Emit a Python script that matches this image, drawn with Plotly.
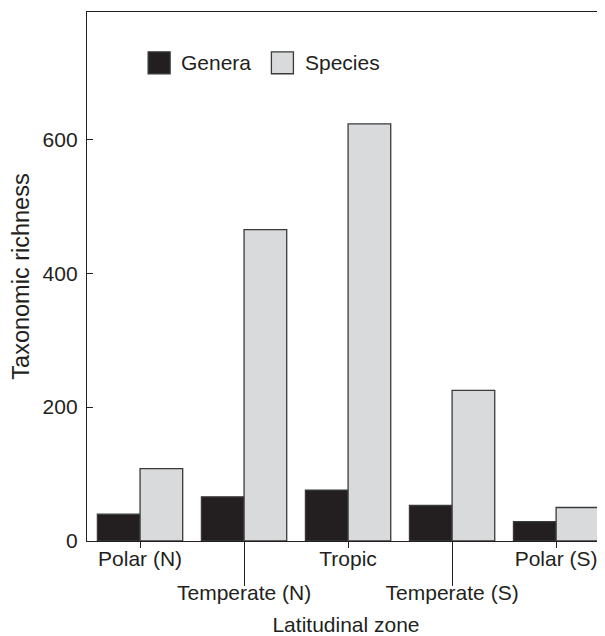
import plotly.graph_objects as go

categories = ["Polar (N)", "Temperate (N)", "Tropic", "Temperate (S)", "Polar (S)"]
genera = [40, 66, 76, 53, 29]
species = [108, 465, 623, 225, 50]
y_ticks = [0, 200, 400, 600]

BLACK = "#231f20"
GREY = "#d9dadc"
EDGE = "#3a3a3a"
FONT = "Liberation Sans, Arial, Helvetica, sans-serif"
FS = 21

fig = go.Figure()
fig.add_trace(go.Bar(x=categories, y=genera, name="Genera",
                     marker=dict(color=BLACK, line=dict(color=EDGE, width=1.3)),
                     showlegend=False))
fig.add_trace(go.Bar(x=categories, y=species, name="Species",
                     marker=dict(color=GREY, line=dict(color=EDGE, width=1.3)),
                     showlegend=False))

xr = [-0.51, 4.47]
short_idx = [i for i in range(len(categories)) if i % 2 == 0]
long_idx = [i for i in range(len(categories)) if i % 2 == 1]

# invisible helper trace so the second (long-tick) x axis is drawn
fig.add_trace(go.Scatter(x=long_idx, y=[0] * len(long_idx), xaxis="x2", mode="markers",
                         marker=dict(opacity=0), hoverinfo="skip", showlegend=False))

fig.update_layout(
    width=597, height=628,
    margin=dict(l=79, r=0, t=4, b=95, autoexpand=False),
    paper_bgcolor="white", plot_bgcolor="white",
    font=dict(family=FONT, size=FS, color=BLACK),
    barmode="group", bargap=0.18, bargroupgap=0,
    xaxis=dict(type="category", range=xr,
               tickvals=[categories[i] for i in short_idx],
               ticktext=[categories[i] for i in short_idx],
               ticks="outside", ticklen=6, tickwidth=1.3, tickcolor=BLACK,
               showline=True, linecolor=BLACK, linewidth=1.3, mirror=True,
               showgrid=False, zeroline=False, ticklabelstandoff=-7),
    xaxis2=dict(overlaying="x", anchor="y", side="bottom", type="linear", range=xr,
                tickvals=long_idx, ticktext=[categories[i] for i in long_idx],
                ticks="outside", ticklen=44, tickwidth=1.3, tickcolor=BLACK,
                showline=False, showgrid=False, zeroline=False, ticklabelstandoff=-11,
                title=dict(text="Latitudinal zone", standoff=15,
                           font=dict(family=FONT, size=21, color=BLACK))),
    yaxis=dict(range=[0, 790], tickvals=y_ticks,
               ticks="inside", ticklen=6, tickwidth=1.3, tickcolor=BLACK,
               showline=True, linecolor=BLACK, linewidth=1.3,
               showgrid=False, zeroline=False, ticklabelstandoff=4,
               title=dict(text="Taxonomic richness", standoff=16,
                          font=dict(family=FONT, size=23.5, color=BLACK))),
)

# manual legend (large swatches as in the reference)
legend_items = [("Genera", BLACK, 0.118), ("Species", GREY, 0.356)]
sw_w, sw_h = 0.0425, 0.0415
ly = 0.904
for name, col, lx in legend_items:
    fig.add_shape(type="rect", xref="paper", yref="paper",
                  x0=lx, x1=lx + sw_w, y0=ly - sw_h / 2, y1=ly + sw_h / 2,
                  fillcolor=col, line=dict(color=EDGE, width=1.3))
    fig.add_annotation(xref="paper", yref="paper", x=lx + sw_w + 0.018, y=ly,
                       text=name, showarrow=False, xanchor="left", yanchor="middle",
                       font=dict(family=FONT, size=FS, color=BLACK))

fig.write_html("out.html")
